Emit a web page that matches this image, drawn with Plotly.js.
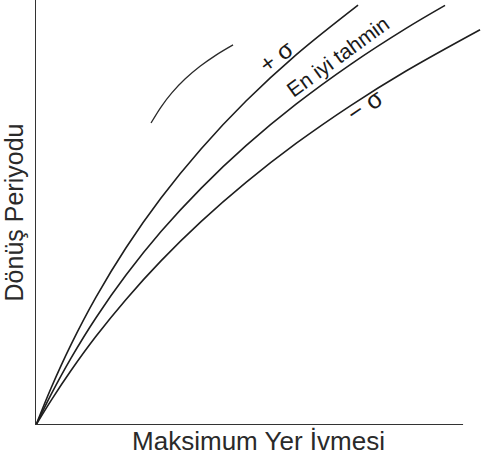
<!DOCTYPE html>
<html>
<head>
<meta charset="utf-8">
<script src="https://cdn.plot.ly/plotly-3.0.1.min.js"></script>
<style>
html,body{margin:0;padding:0;background:#fff;}
#chart{width:481px;height:465px;}
</style>
</head>
<body>
<div id="chart"></div>
<script>
// Relative units (axes carry no ticks in the original)
const plusSigmaX = [0, 0.351, 0.820, 1.405, 2.108, 2.927, 3.864, 4.918, 6.089, 7.541];
const plusSigmaY = [0, 0.866, 1.892, 3.009, 4.172, 5.341, 6.496, 7.624, 8.711, 9.882];

const bestX = [0, 0.351, 0.820, 1.405, 2.108, 2.927, 3.864, 4.918, 6.089, 7.377, 8.665, 9.578];
const bestY = [0, 0.715, 1.574, 2.525, 3.527, 4.551, 5.569, 6.572, 7.548, 8.492, 9.332, 9.873];

const minusSigmaX = [0, 0.351, 0.820, 1.405, 2.108, 2.927, 3.864, 4.918, 6.089, 7.377, 8.665, 10.398];
const minusSigmaY = [0, 0.574, 1.282, 2.087, 2.955, 3.861, 4.784, 5.708, 6.624, 7.522, 8.329, 9.301];

// stray arc visible in the scanned figure
const arcX = [2.693, 2.927, 3.185, 3.489, 3.841, 4.215, 4.614];
const arcY = [7.106, 7.482, 7.819, 8.139, 8.440, 8.704, 8.944];

const seriesNames = ["+ σ", "En iyi tahmin", "− σ"];
const labelX = [5.62, 7.07, 7.70];
const labelY = [8.68, 8.66, 7.53];
const labelAngle = [-37, -36, -34];
const labelSize = [24, 21, 25];

const xTitle = "Maksimum Yer İvmesi";
const yTitle = "Dönüş Periyodu";
const xAxisEnd = 10;

const lineStyle = {color: "#1e1e1e", width: 1.6, shape: "spline", smoothing: 1.0};

const traces = [
  {x: plusSigmaX, y: plusSigmaY, name: seriesNames[0], mode: "lines", line: lineStyle, hoverinfo: "skip"},
  {x: bestX, y: bestY, name: seriesNames[1], mode: "lines", line: lineStyle, hoverinfo: "skip"},
  {x: minusSigmaX, y: minusSigmaY, name: seriesNames[2], mode: "lines", line: lineStyle, hoverinfo: "skip"},
  {x: arcX, y: arcY, name: "arc", mode: "lines", line: {color: "#2a2a2a", width: 1.3, shape: "spline", smoothing: 1.0}, hoverinfo: "skip"}
];

const annotations = seriesNames.map((t, i) => ({
  x: labelX[i], y: labelY[i], xref: "x", yref: "y",
  text: t, showarrow: false, textangle: labelAngle[i],
  font: {family: "Liberation Sans, Arial, sans-serif", size: labelSize[i], color: "#1a1a1a"}
}));

const layout = {
  width: 481, height: 465,
  margin: {l: 36, r: 0, t: 0, b: 40, pad: 0},
  paper_bgcolor: "#fff", plot_bgcolor: "#fff",
  showlegend: false,
  xaxis: {
    range: [0, 10.42], showgrid: false, zeroline: false, showticklabels: false, ticks: "",
    showline: false, automargin: false,
    title: {text: xTitle, standoff: 6, font: {family: "Liberation Sans, Arial, sans-serif", size: 26, color: "#2a2a2a"}}
  },
  yaxis: {
    range: [0, 10], showgrid: false, zeroline: false, showticklabels: false, ticks: "",
    showline: true, linecolor: "#333", linewidth: 1.5, automargin: false,
    title: {text: yTitle, standoff: 6, font: {family: "Liberation Sans, Arial, sans-serif", size: 25, color: "#2a2a2a"}}
  },
  shapes: [
    {type: "line", xref: "x", yref: "y", x0: 0, x1: xAxisEnd, y0: 0, y1: 0, line: {color: "#333", width: 1.8}}
  ],
  annotations: annotations
};

Plotly.newPlot("chart", traces, layout, {staticPlot: true, displayModeBar: false});
</script>
</body>
</html>
